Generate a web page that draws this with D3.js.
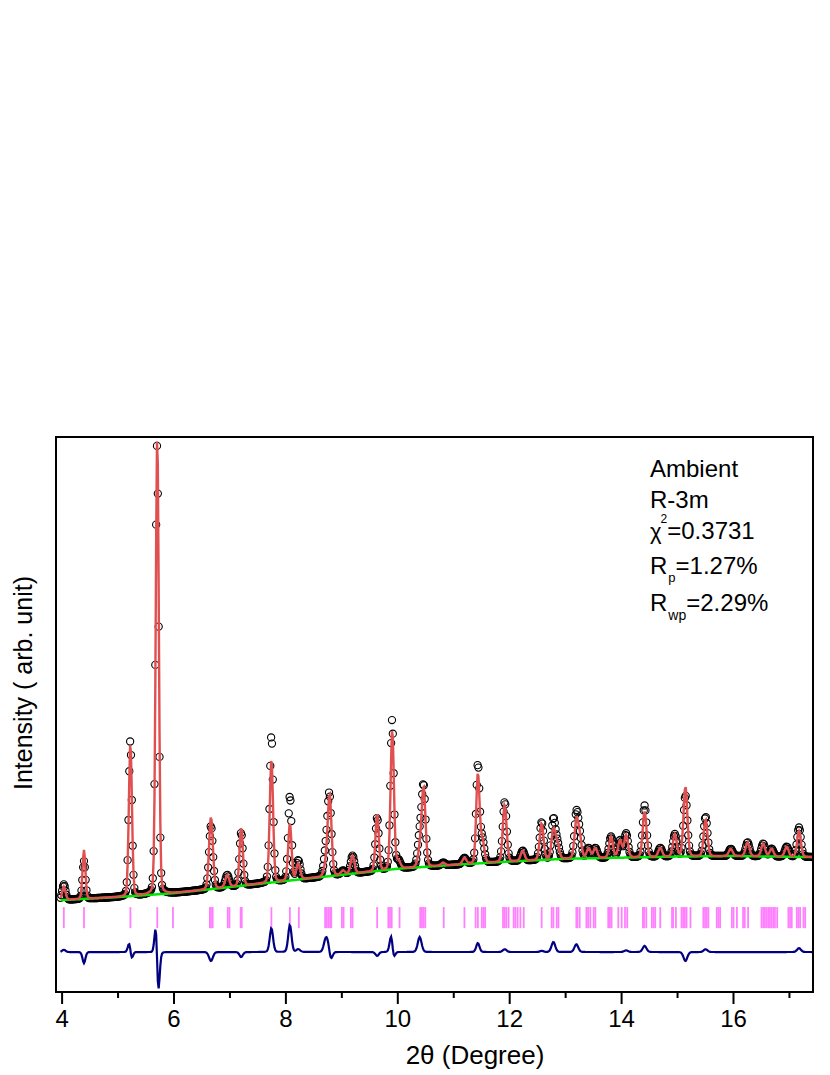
<!DOCTYPE html>
<html>
<head>
<meta charset="utf-8">
<script src="https://cdn.jsdelivr.net/npm/d3@7"></script>
<style>
  body { margin: 0; background: #fff; }
  text { font-family: "Liberation Sans", Arial, sans-serif; fill: #000; }
</style>
</head>
<body>
<div id="chart"></div>
<script>
// ---- data ----
const xTicks = [4, 6, 8, 10, 12, 14, 16];
const xMinorTicks = [5, 7, 9, 11, 13, 15, 17];

// background (green) knots: angle / intensity
const bgAngle = [3.9, 5, 6, 7, 8, 9, 10, 11, 12, 13, 14, 15, 16, 17.45];
const bgInt = [165, 171, 178, 189, 200, 211, 222, 229, 235, 240, 242, 244, 245, 243];

// peaks: position, calculated height, observed height, observed shift, fwhm
const peakPos = [4.04, 4.40, 5.23, 5.71, 6.67, 6.96, 7.21, 7.75, 8.08, 8.23,
  8.72, 8.79, 9.03, 9.20, 9.64, 9.91, 10.02, 10.40, 10.47, 10.82,
  11.20, 11.44, 11.52, 11.92, 12.24, 12.58, 12.79, 12.86, 13.20, 13.26,
  13.42, 13.54, 13.82, 13.98, 14.09, 14.42, 14.70, 14.96, 15.15, 15.51,
  15.96, 16.26, 16.54, 16.69, 16.96, 17.18];
const calcPeak = [24, 88, 276, 830, 130, 22, 105, 222, 103, 29,
  18, 146, 7, 32, 103, 252, 14, 27, 143, 5,
  11, 161, 41, 103, 18, 66, 53, 27, 64, 36,
  18, 18, 38, 31, 40, 82, 16, 40, 126, 66,
  13, 25, 23, 14, 18, 46];
const obsPeak = [28, 68, 280, 810, 114, 22, 96, 265, 152, 34,
  40, 144, 7, 32, 96, 269, 14, 54, 143, 5,
  11, 177, 41, 108, 18, 68, 71, 27, 78, 36,
  18, 18, 38, 31, 43, 93, 16, 40, 110, 71,
  13, 25, 23, 14, 18, 53];
const obsShift = [0, 0, -0.002, -0.003, 0, 0, 0, 0, 0, 0,
  0, -0.004, 0, 0, 0, -0.003, 0, 0, 0, 0,
  0, 0, 0, 0, 0, 0, 0, 0, 0, 0,
  0, 0, 0, 0, 0, 0, 0, 0, 0, 0,
  0, 0, 0, 0, 0, 0];
const peakWidth = [0.07, 0.06, 0.065, 0.065, 0.08, 0.08, 0.07, 0.07, 0.07, 0.08,
  0.08, 0.08, 0.08, 0.08, 0.07, 0.07, 0.08, 0.08, 0.08, 0.08,
  0.08, 0.07, 0.08, 0.08, 0.08, 0.08, 0.08, 0.08, 0.08, 0.08,
  0.08, 0.08, 0.08, 0.08, 0.08, 0.08, 0.08, 0.08, 0.08, 0.08,
  0.08, 0.08, 0.08, 0.08, 0.08, 0.08];

// Bragg reflection positions (magenta ticks)
const reflections = [4.04, 4.40, 5.23, 5.71, 5.99, 6.65, 6.67, 6.70, 6.97, 7.00,
  7.20, 7.22, 7.75, 8.08, 8.24, 8.71, 8.74, 8.77, 8.80, 8.82,
  9.01, 9.04, 9.17, 9.20, 9.64, 9.84, 9.87, 9.90, 10.04, 10.41,
  10.44, 10.47, 10.50, 10.83, 11.20, 11.40, 11.44, 11.51, 11.54, 11.57,
  11.89, 11.92, 11.95, 11.99, 12.08, 12.11, 12.15, 12.20, 12.26, 12.58,
  12.76, 12.79, 12.85, 12.88, 13.20, 13.22, 13.26, 13.38, 13.41, 13.45,
  13.51, 13.54, 13.77, 13.80, 13.83, 13.95, 14.01, 14.07, 14.11, 14.39,
  14.41, 14.45, 14.55, 14.58, 14.61, 14.70, 14.91, 14.93, 14.98, 15.08,
  15.11, 15.14, 15.17, 15.24, 15.47, 15.50, 15.53, 15.56, 15.71, 15.74,
  15.77, 15.98, 16.01, 16.07, 16.18, 16.21, 16.27, 16.51, 16.54, 16.57,
  16.60, 16.63, 16.66, 16.69, 16.72, 16.75, 16.79, 16.99, 17.02, 17.05,
  17.14, 17.17, 17.20, 17.26, 17.29];

const angleStart = 3.98, angleEnd = 17.46, angleStep = 0.015;
const diffOffset = 72;          // where the difference curve sits
const tickBand = [115, 153];    // vertical span of reflection ticks

// ---- layout ----
const W = 830, H = 1075;
const margin = { left: 56, right: 17, top: 437, bot: 83 };
const svg = d3.select('#chart').append('svg').attr('width', W).attr('height', H);

const x = d3.scaleLinear().domain([3.9, 17.43]).range([margin.left, W - margin.right]);
const y = d3.scaleLinear().domain([0, 1000]).range([H - margin.bot, margin.top]);
const bg = d3.scaleLinear().domain(bgAngle).range(bgInt);

function pv(t, x0, w) {
    // pseudo-Voigt, unit height
    const u = (t - x0) / w;
    const eta = 0.12;
    return eta / (1 + 4 * u * u) + (1 - eta) * Math.exp(-4 * Math.LN2 * u * u);
}

const angles = d3.range(angleStart, angleEnd, angleStep);
const profile = angles.map(t => {
    let c = bg(t), o = bg(t);
    peakPos.forEach((p, i) => {
        c += calcPeak[i] * pv(t, p, peakWidth[i]);
        o += obsPeak[i] * pv(t, p + obsShift[i], peakWidth[i]);
    });
    return { t, calc: c, obs: o, bg: bg(t), diff: o - c + diffOffset };
});

svg.append('clipPath').attr('id', 'plot-clip')
    .append('rect')
    .attr('x', margin.left).attr('y', margin.top)
    .attr('width', W - margin.left - margin.right)
    .attr('height', H - margin.top - margin.bot);

const plot = svg.append('g').attr('clip-path', 'url(#plot-clip)');

// reflection ticks
plot.append('g').selectAll('line').data(reflections).join('line')
    .attr('x1', d => x(d)).attr('x2', d => x(d))
    .attr('y1', y(tickBand[1])).attr('y2', y(tickBand[0]))
    .attr('stroke', '#ff80ff').attr('stroke-width', 1.8);

// difference
plot.append('path').datum(profile)
    .attr('fill', 'none').attr('stroke', '#000080').attr('stroke-width', 2.2)
    .attr('d', d3.line().x(d => x(d.t)).y(d => y(d.diff)));

// observed circles
plot.append('g').selectAll('circle').data(profile).join('circle')
    .attr('cx', d => x(d.t)).attr('cy', d => y(d.obs)).attr('r', 3.6)
    .attr('fill', 'none').attr('stroke', '#000').attr('stroke-width', 1.1);

// background
plot.append('path').datum(profile)
    .attr('fill', 'none').attr('stroke', '#00e600').attr('stroke-width', 2.5)
    .attr('d', d3.line().x(d => x(d.t)).y(d => y(d.bg)));

// calculated
plot.append('path').datum(profile)
    .attr('fill', 'none').attr('stroke', '#e05050').attr('stroke-width', 2.4)
    .attr('d', d3.line().x(d => x(d.t)).y(d => y(d.calc)));

// frame
svg.append('rect')
    .attr('x', margin.left).attr('y', margin.top)
    .attr('width', W - margin.left - margin.right)
    .attr('height', H - margin.top - margin.bot)
    .attr('fill', 'none').attr('stroke', '#000').attr('stroke-width', 2);

// x axis
const xAxis = svg.append('g')
    .attr('transform', `translate(0,${H - margin.bot})`)
    .call(d3.axisBottom(x).tickValues(xTicks).tickSize(12).tickSizeOuter(0).tickPadding(6));
xAxis.select('.domain').remove();
xAxis.selectAll('.tick line').attr('stroke-width', 2);
xAxis.selectAll('.tick text').attr('font-size', 24)
    .style('font-family', '"Liberation Sans Narrow", "Arial Narrow", "Liberation Sans", sans-serif');

const xMinor = svg.append('g')
    .attr('transform', `translate(0,${H - margin.bot})`)
    .call(d3.axisBottom(x).tickValues(xMinorTicks).tickSize(6).tickSizeOuter(0).tickFormat(''));
xMinor.select('.domain').remove();
xMinor.selectAll('.tick line').attr('stroke-width', 2);

// axis titles
svg.append('text')
    .attr('x', 475).attr('y', 1064)
    .attr('text-anchor', 'middle').attr('font-size', 26)
    .text('2θ (Degree)');

svg.append('text')
    .attr('transform', 'translate(32,683) rotate(-90)')
    .attr('text-anchor', 'middle').attr('font-size', 25)
    .text('Intensity ( arb. unit)');

// annotation block
const note = svg.append('g').attr('font-size', 24);
note.append('text').attr('x', 650).attr('y', 477).text('Ambient');
note.append('text').attr('x', 650).attr('y', 508).text('R-3m');

const chi = note.append('text').attr('x', 650).attr('y', 539);
chi.append('tspan').attr('font-size', 22).text('χ');
chi.append('tspan').attr('font-size', 12).attr('dx', -1).attr('dy', -16).text('2');
chi.append('tspan').attr('dx', 0).attr('dy', 16).text('=0.3731');

const rp = note.append('text').attr('x', 650).attr('y', 574);
rp.append('tspan').text('R');
rp.append('tspan').attr('font-size', 13).attr('dx', 1).attr('dy', 8).text('p');
rp.append('tspan').attr('dy', -8).text('=1.27%');

const rwp = note.append('text').attr('x', 650).attr('y', 611);
rwp.append('tspan').text('R');
rwp.append('tspan').attr('font-size', 14).attr('dx', 1).attr('dy', 9).text('wp');
rwp.append('tspan').attr('dy', -9).text('=2.29%');
</script>
</body>
</html>
